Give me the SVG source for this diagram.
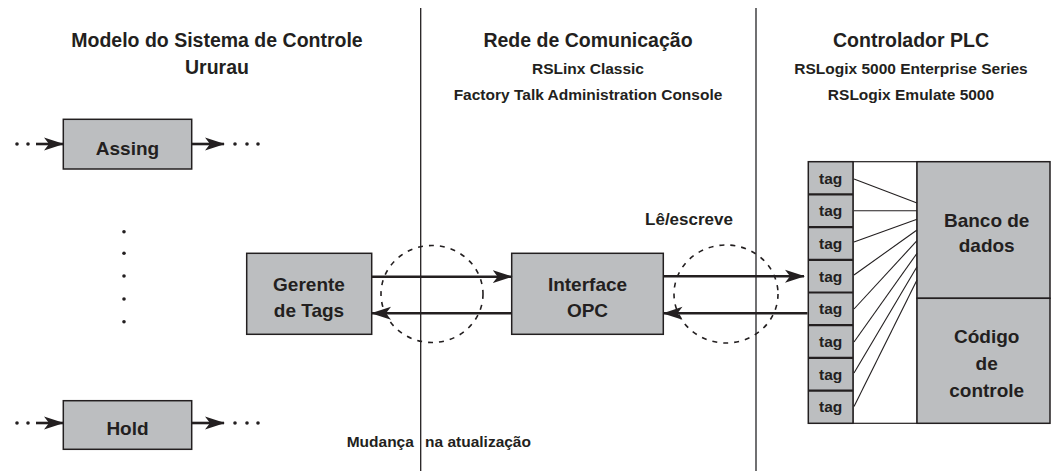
<svg xmlns="http://www.w3.org/2000/svg" width="1052" height="473" viewBox="0 0 1052 473">
<style>
text{font-family:"Liberation Sans",Arial,sans-serif;font-weight:bold;fill:#231f20}
.t{font-size:19.5px;text-anchor:middle}
.s{font-size:15.5px;text-anchor:middle}
.b{font-size:19px;text-anchor:middle}
.g{font-size:15.5px;text-anchor:middle}
.box{fill:#bcbec0;stroke:#231f20;stroke-width:1.5}
.arr{stroke:#231f20;stroke-width:2.6;fill:none}
.fan{stroke:#231f20;stroke-width:1.1;fill:none}
.dash{fill:none;stroke:#231f20;stroke-width:1.6;stroke-dasharray:5,6}
.dot{fill:#231f20}
</style>
<defs>
<marker id="ah" markerUnits="userSpaceOnUse" markerWidth="20" markerHeight="14" refX="19" refY="7" orient="auto">
<path d="M0,0.5 L20,7 L0,13.5 L5,7 Z" fill="#231f20"/>
</marker>
</defs>
<rect width="1052" height="473" fill="#fff"/>

<g id="headers">
<text class="t" x="217" y="47">Modelo do Sistema de Controle</text>
<text class="t" x="217" y="74">Ururau</text>
<text class="t" x="588" y="47">Rede de Comunicação</text>
<text class="s" x="588" y="74">RSLinx Classic</text>
<text class="s" x="588" y="100">Factory Talk Administration Console</text>
<text class="t" x="911" y="47">Controlador PLC</text>
<text class="s" x="911" y="74">RSLogix 5000 Enterprise Series</text>
<text class="s" x="911" y="100">RSLogix Emulate 5000</text>
</g>

<g id="dividers">
<line x1="420.7" y1="8" x2="420.7" y2="471" stroke="#231f20" stroke-width="1.3"/>
<line x1="756" y1="8" x2="756" y2="471" stroke="#4d4d4f" stroke-width="1.6"/>
</g>

<g id="dashed-circles">
<ellipse class="dash" cx="432" cy="294" rx="51" ry="48.5"/>
<ellipse class="dash" cx="726" cy="294" rx="52" ry="49"/>
</g>

<g id="assing">
<rect class="box" x="63.3" y="119.3" width="128.4" height="49.7"/>
<text class="b" x="127.5" y="155">Assing</text>
</g>

<g id="vertical-dots">
<circle class="dot" cx="124" cy="231.7" r="1.8"/>
<circle class="dot" cx="124" cy="253.3" r="1.8"/>
<circle class="dot" cx="124" cy="276" r="1.8"/>
<circle class="dot" cx="124" cy="299" r="1.8"/>
<circle class="dot" cx="124" cy="321.7" r="1.8"/>
</g>

<g id="hold">
<rect class="box" x="63.3" y="400.7" width="128.4" height="48.6"/>
<text class="b" x="127.5" y="435">Hold</text>
</g>

<g id="gerente">
<rect class="box" x="246.7" y="253.3" width="125" height="81"/>
<text class="b" x="309" y="290.7">Gerente</text>
<text class="b" x="309" y="316.7">de Tags</text>
</g>

<g id="interface-opc">
<rect class="box" x="511.7" y="253.3" width="151.6" height="81"/>
<text class="b" x="587.5" y="290.7">Interface</text>
<text class="b" x="587.5" y="316.7">OPC</text>
</g>

<g id="plc">
<rect x="853" y="161.7" width="64" height="261.6" fill="#fff" stroke="#231f20" stroke-width="1.2"/>
<rect class="box" x="917" y="161.7" width="133" height="136.6"/>
<rect class="box" x="917" y="298.3" width="133" height="125"/>
<text class="b" x="986.7" y="226.7">Banco de</text>
<text class="b" x="986.7" y="251.7">dados</text>
<text class="b" x="986.7" y="343">Código</text>
<text class="b" x="986.7" y="370">de</text>
<text class="b" x="986.7" y="396.7">controle</text>
<g id="tags">
<rect class="box" x="808.3" y="161.7" width="44.7" height="261.6"/>
<g stroke="#231f20" stroke-width="2.2">
<line x1="808.3" y1="194.4" x2="853" y2="194.4"/>
<line x1="808.3" y1="227.1" x2="853" y2="227.1"/>
<line x1="808.3" y1="259.8" x2="853" y2="259.8"/>
<line x1="808.3" y1="292.5" x2="853" y2="292.5"/>
<line x1="808.3" y1="325.2" x2="853" y2="325.2"/>
<line x1="808.3" y1="357.9" x2="853" y2="357.9"/>
<line x1="808.3" y1="390.6" x2="853" y2="390.6"/>
</g>
<text class="g" x="830.7" y="183.5">tag</text>
<text class="g" x="830.7" y="216.2">tag</text>
<text class="g" x="830.7" y="248.9">tag</text>
<text class="g" x="830.7" y="281.6">tag</text>
<text class="g" x="830.7" y="314.3">tag</text>
<text class="g" x="830.7" y="347">tag</text>
<text class="g" x="830.7" y="379.7">tag</text>
<text class="g" x="830.7" y="412.4">tag</text>
</g>
</g>

<g id="connectors">
<line class="arr" x1="36" y1="144" x2="63" y2="144" marker-end="url(#ah)"/>
<line class="arr" x1="192" y1="144" x2="224" y2="144" marker-end="url(#ah)"/>
<line class="arr" x1="36" y1="423" x2="63" y2="423" marker-end="url(#ah)"/>
<line class="arr" x1="192" y1="423" x2="224" y2="423" marker-end="url(#ah)"/>
<line class="arr" x1="371.7" y1="276.7" x2="511.7" y2="276.7" marker-end="url(#ah)"/>
<line class="arr" x1="511.7" y1="313.3" x2="372" y2="313.3" marker-end="url(#ah)"/>
<line class="arr" x1="663.3" y1="276.3" x2="804" y2="276.3" marker-end="url(#ah)"/>
<line class="arr" x1="807.5" y1="313.3" x2="663.5" y2="313.3" marker-end="url(#ah)"/>
<line class="fan" x1="854" y1="179" x2="917" y2="203"/>
<line class="fan" x1="854" y1="210.7" x2="917" y2="210.7"/>
<line class="fan" x1="854" y1="242" x2="917" y2="219.3"/>
<line class="fan" x1="854" y1="275" x2="917" y2="230"/>
<line class="fan" x1="854" y1="309" x2="917" y2="240.7"/>
<line class="fan" x1="854" y1="342" x2="917" y2="253.3"/>
<line class="fan" x1="854" y1="373" x2="917" y2="266.7"/>
<line class="fan" x1="854" y1="406.5" x2="917" y2="280"/>
</g>

<g id="flow-dots">
<circle class="dot" cx="17" cy="144" r="1.8"/>
<circle class="dot" cx="28" cy="144" r="1.8"/>
<circle class="dot" cx="235" cy="144" r="1.8"/>
<circle class="dot" cx="247" cy="144" r="1.8"/>
<circle class="dot" cx="258" cy="144" r="1.8"/>
<circle class="dot" cx="17" cy="423" r="1.8"/>
<circle class="dot" cx="28" cy="423" r="1.8"/>
<circle class="dot" cx="235" cy="423" r="1.8"/>
<circle class="dot" cx="247" cy="423" r="1.8"/>
<circle class="dot" cx="258" cy="423" r="1.8"/>
</g>

<g id="labels">
<text x="689" y="225" style="font-size:17px;text-anchor:middle">Lê/escreve</text>
<text x="346.7" y="446.7" style="font-size:15.5px">Mudança <tspan x="425">na atualização</tspan></text>
</g>
</svg>
